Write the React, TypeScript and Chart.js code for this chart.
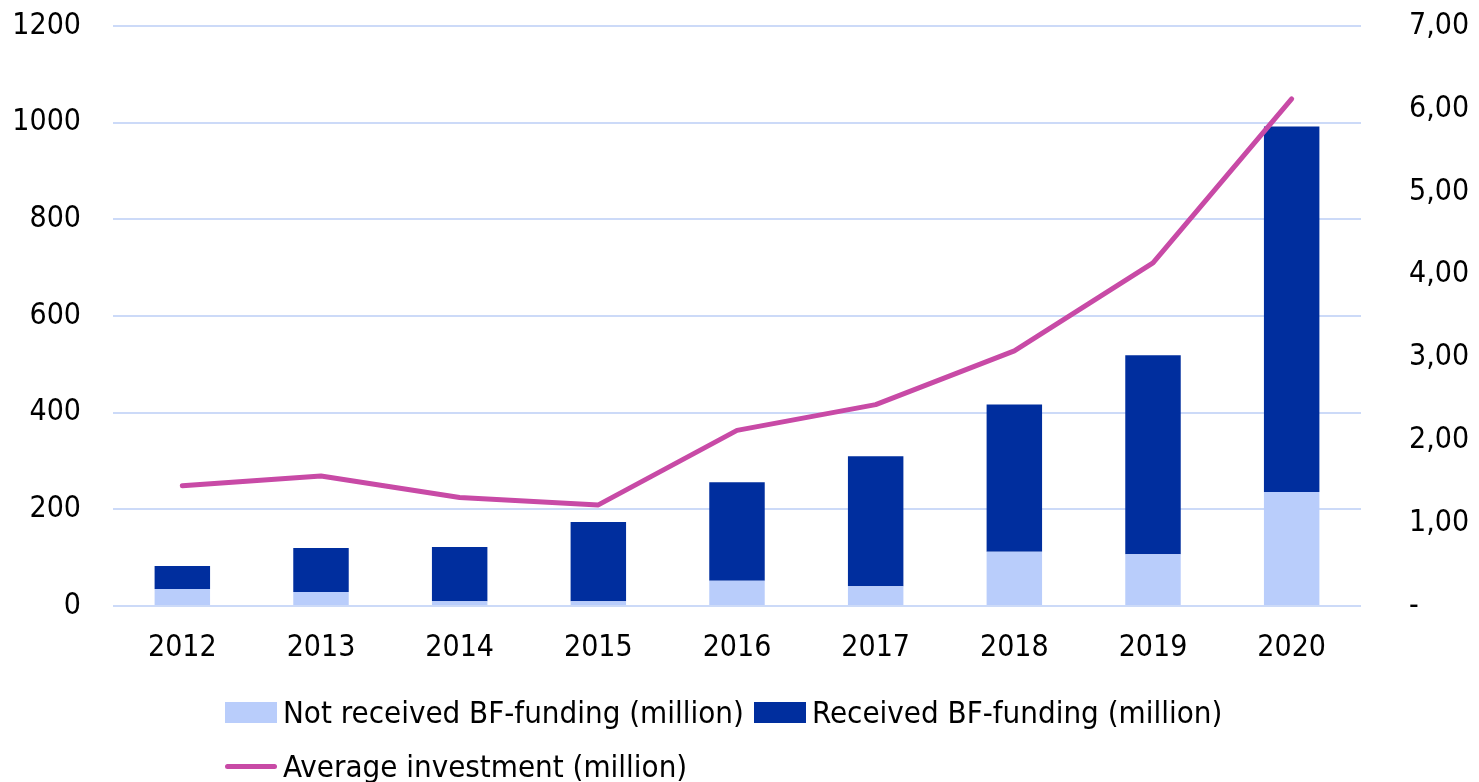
import React, { useEffect, useRef } from "react";
import { Chart, registerables } from "chart.js";

Chart.register(...registerables);

const years = ["2012", "2013", "2014", "2015", "2016", "2017", "2018", "2019", "2020"];
const notReceived = [35, 29, 10, 10, 52, 41, 112, 107, 236];
const received = [48, 91, 112, 164, 204, 269, 305, 412, 756];
const avgInvestment = [1.45, 1.57, 1.31, 1.22, 2.12, 2.43, 3.08, 4.14, 6.12];

const leftTicks = [0, 200, 400, 600, 800, 1000, 1200];
const rightTicks = [0, 1, 2, 3, 4, 5, 6, 7];

const labelNotReceived = "Not received BF-funding (million)";
const labelReceived = "Received BF-funding (million)";
const labelAverage = "Average investment (million)";

const LIGHT = "#B9CDFB";
const DARK = "#002E9E";
const PINK = "#C84AA6";
const GRID = "#CCDAF8";
const FONT = "'DejaVu Sans Condensed', 'DejaVu Sans', sans-serif";

const SHIFT = 40;
const CH = 782 + SHIFT;

export default function App() {
  const ref = useRef<HTMLCanvasElement>(null);

  useEffect(() => {
    if (!ref.current) return;
    const chart = new Chart(ref.current, {
      type: "bar",
      data: {
        labels: years,
        datasets: [
          {
            type: "line",
            label: labelAverage,
            data: avgInvestment,
            yAxisID: "y1",
            borderColor: PINK,
            backgroundColor: PINK,
            borderWidth: 5,
            borderCapStyle: "round",
            borderJoinStyle: "round",
            pointRadius: 0,
            tension: 0,
            order: 0,
          } as any,
          {
            label: labelNotReceived,
            data: notReceived,
            backgroundColor: LIGHT,
            yAxisID: "y",
            order: 1,
            categoryPercentage: 1,
            barPercentage: 0.4,
          },
          {
            label: labelReceived,
            data: received,
            backgroundColor: DARK,
            yAxisID: "y",
            order: 1,
            categoryPercentage: 1,
            barPercentage: 0.4,
          },
        ],
      },
      options: {
        responsive: false,
        animation: false,
        layout: { padding: { top: 0, bottom: 0, left: 0, right: 0 } },
        plugins: { legend: { display: false }, tooltip: { enabled: false } },
        scales: {
          x: {
            stacked: true,
            grid: { display: false, drawTicks: false },
            border: { display: false },
            ticks: { color: "#000", font: { family: FONT, size: 30 }, padding: 24 },
            afterFit: (s: any) => {
              s.height = 782 - 606;
            },
          },
          y: {
            stacked: true,
            position: "left",
            min: 0,
            max: 1200,
            afterBuildTicks: (s: any) => {
              s.ticks = leftTicks.map((v) => ({ value: v }));
            },
            grid: { color: GRID, lineWidth: 2, drawTicks: false },
            border: { display: false },
            ticks: {
              color: "#000",
              font: { family: FONT, size: 30 },
              padding: 32,
              callback: (v: any) => String(v),
            },
            afterFit: (s: any) => {
              s.width = 113;
            },
          },
          y1: {
            position: "right",
            min: 0,
            max: 7,
            afterBuildTicks: (s: any) => {
              s.ticks = rightTicks.map((v) => ({ value: v }));
            },
            grid: { display: false, drawTicks: false },
            border: { display: false },
            ticks: {
              color: "#000",
              font: { family: FONT, size: 30 },
              padding: 48,
              callback: (v: any) => (Number(v) === 0 ? "-" : Number(v).toFixed(2).replace(".", ",")),
            },
            afterFit: (s: any) => {
              s.width = 1479 - 1361;
            },
          },
        },
      },
    });
    return () => chart.destroy();
  }, []);

  const textStyle: React.CSSProperties = {
    fontFamily: FONT,
    fontSize: 31,
    color: "#000",
    whiteSpace: "nowrap",
    lineHeight: "36px",
  };
  const item: React.CSSProperties = { display: "flex", alignItems: "center" };

  return (
    <div style={{ position: "fixed", left: 0, top: 0, width: 1479, height: 782, background: "#fff", overflow: "hidden" }}>
      <canvas ref={ref} width={1479} height={CH} style={{ position: "absolute", left: 0, top: -SHIFT, width: 1479, height: CH }} />
      <div style={{ position: "absolute", left: 225, top: 694, display: "flex", ...textStyle }}>
        <div style={item}>
          <span style={{ display: "inline-block", width: 52, height: 21, background: LIGHT, marginRight: 6 }} />
          <span>{labelNotReceived}</span>
        </div>
        <div style={{ ...item, marginLeft: 10 }}>
          <span style={{ display: "inline-block", width: 52, height: 21, background: DARK, marginRight: 6 }} />
          <span>{labelReceived}</span>
        </div>
      </div>
      <div style={{ position: "absolute", left: 225, top: 748, display: "flex", ...textStyle }}>
        <div style={item}>
          <span style={{ display: "inline-block", width: 52, height: 5, borderRadius: 3, background: PINK, marginRight: 6 }} />
          <span>{labelAverage}</span>
        </div>
      </div>
    </div>
  );
}
